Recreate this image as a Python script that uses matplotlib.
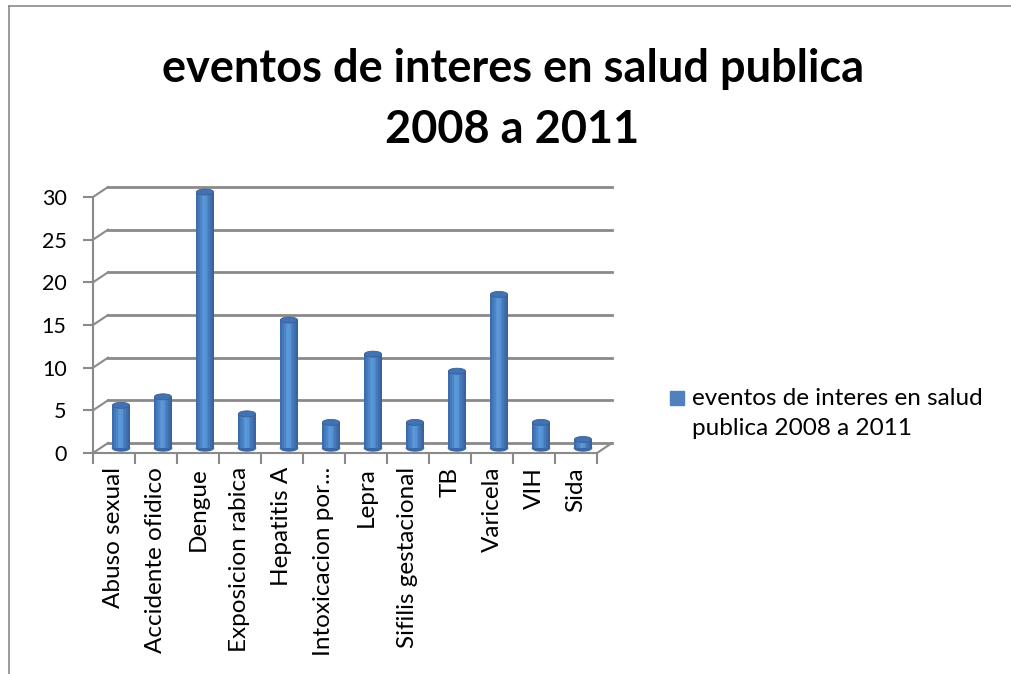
import matplotlib
matplotlib.use('Agg')
import matplotlib.pyplot as plt
import matplotlib.transforms as mtrans
from matplotlib.patches import Rectangle, Ellipse
from matplotlib.lines import Line2D
import numpy as np

# data
categorias = ['Abuso sexual', 'Accidente ofidico', 'Dengue', 'Exposicion rabica',
              'Hepatitis A', 'Intoxicacion por...', 'Lepra', 'Sifilis gestacional',
              'TB', 'Varicela', 'VIH', 'Sida']
valores = [5, 6, 30, 4, 15, 3, 11, 3, 9, 18, 3, 1]
serie = ['eventos de interes en salud', 'publica 2008 a 2011']
titulo = ['eventos de interes en salud publica', '2008 a 2011']
yticks = [0, 5, 10, 15, 20, 25, 30]

W, H = 1011, 674
fnt = 'Lato'
gris = '#8a8a8a'

fig = plt.figure(figsize=(W / 100, H / 100), dpi=100)

def fx(x):
    return x / W

def fy(y):
    return 1 - y / H

# outer chart border (left and top only visible)
fig.add_artist(Line2D([fx(9), fx(9)], [fy(674), fy(6)], color=gris, lw=1.2))
fig.add_artist(Line2D([fx(9), fx(1011)], [fy(6), fy(6)], color=gris, lw=1.2))

# front plane of the axes
left, right, top, bot = 93, 597, 197, 453
ax = fig.add_axes([fx(left), fy(bot), fx(right - left), (bot - top) / H])
ax.set_xlim(0, len(categorias))
ax.set_ylim(0, 30)
for s in ['top', 'right']:
    ax.spines[s].set_visible(False)
ax.spines['left'].set_color(gris)
ax.spines['bottom'].set_color(gris)
ax.spines['left'].set_linewidth(1.5)
ax.spines['bottom'].set_linewidth(1.5)

ax.set_yticks(yticks)
ax.set_yticklabels([str(v) for v in yticks], fontsize=15.5, family=fnt)
ax.tick_params(axis='y', length=7, width=1.5, color=gris, pad=12)
ax.set_xticks(np.arange(len(categorias) + 1))
ax.set_xticklabels([])
ax.set_xticks(np.arange(len(categorias)) + 0.5, minor=True)
ax.set_xticklabels(categorias, minor=True, rotation=90, fontsize=17.5, family=fnt,
                   va='top', ha='center')
ax.tick_params(axis='x', which='major', length=8, width=1.5, color=gris)
ax.tick_params(axis='x', which='minor', length=0, pad=10)

# back wall and depth lines
back = mtrans.offset_copy(ax.transData, fig=fig, x=15, y=10, units='dots')
mid = mtrans.offset_copy(ax.transData, fig=fig, x=7, y=5, units='dots')
n = len(categorias)
inv = fig.transFigure.inverted()
for v in yticks:
    ax.plot([0, n], [v, v], color=gris, lw=2, transform=back, clip_on=False)
    # diagonal from front axis to back wall
    q0 = inv.transform(ax.transData.transform((0, v)))
    q1 = inv.transform(back.transform((0, v)))
    fig.add_artist(Line2D([q0[0], q1[0]], [q0[1], q1[1]], color=gris, lw=1.5))
p0 = inv.transform(ax.transData.transform((n, 0)))
p1 = inv.transform(back.transform((n, 0)))
fig.add_artist(Line2D([p0[0], p1[0]], [p0[1], p1[1]], color=gris, lw=1.5))

# cylinders
bw = 0.41
eh = 0.7
shades = ['#3b6cab', '#4579ba', '#4d84c6', '#5591d3', '#5998da', '#5692d4',
          '#4e85c7', '#4679b9', '#3f6ead', '#38639f']
for i, v in enumerate(valores):
    xc = i + 0.5
    x0 = xc - bw / 2
    ax.add_patch(Ellipse((xc, 0), bw, eh, color='#3a67a3', transform=mid,
                         clip_on=False, zorder=3))
    sw = bw / len(shades)
    for k, c in enumerate(shades):
        ax.add_patch(Rectangle((x0 + k * sw, 0), sw * 1.02, v, color=c, lw=0,
                               transform=mid, clip_on=False, zorder=3))
    ax.add_patch(Ellipse((xc, v), bw, eh, color='#4173b3', ec='#3a5f96', lw=0.6,
                         transform=mid, clip_on=False, zorder=4))

# title
fig.text(0.507, fy(82), titulo[0], ha='center', va='baseline', fontsize=32.5,
         fontweight='bold', family=fnt)
fig.text(0.507, fy(143), titulo[1], ha='center', va='baseline', fontsize=32.5,
         fontweight='bold', family=fnt)

# legend
fig.add_artist(Rectangle((fx(670), fy(405)), fx(14), 14 / H, color='#4f81bd',
                         transform=fig.transFigure))
fig.text(fx(692), fy(405), serie[0], ha='left', va='baseline', fontsize=17.5,
         family=fnt)
fig.text(fx(692), fy(435), serie[1], ha='left', va='baseline', fontsize=17.5,
         family=fnt)

fig.savefig('out.png', dpi=100)
